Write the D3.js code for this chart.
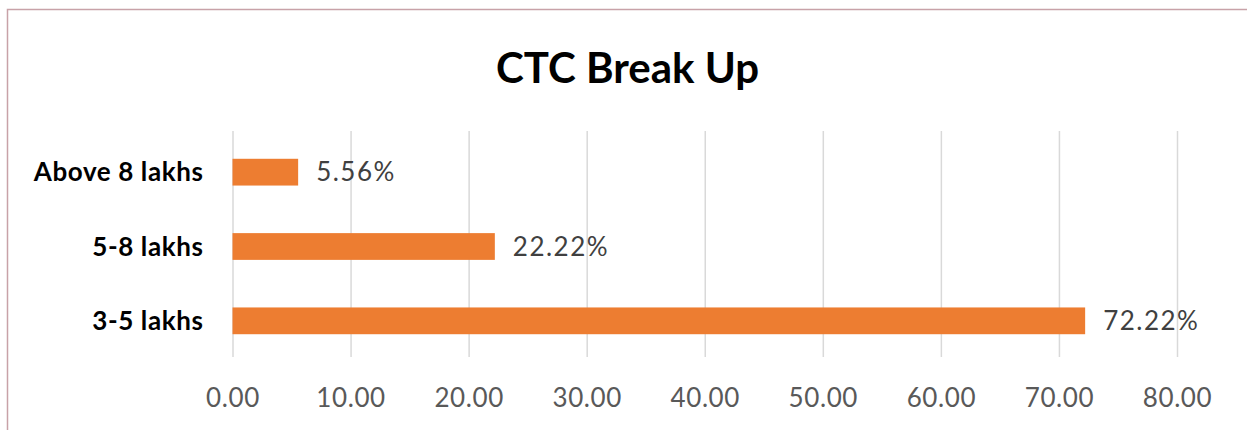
<!DOCTYPE html>
<html><head><meta charset="utf-8">
<script src="https://cdn.jsdelivr.net/npm/d3@7"></script>
<style>body{margin:0;background:#fff} svg{display:block}</style>
</head><body>
<svg id="chart" width="1247" height="430"></svg>
<script>
const categories = ["Above 8 lakhs", "5-8 lakhs", "3-5 lakhs"];
const values = [5.56, 22.22, 72.22];
const valueLabels = ["5.56%", "22.22%", "72.22%"];
const xTicks = [0, 10, 20, 30, 40, 50, 60, 70, 80];
const title = "CTC Break Up";

const W = 1247, H = 430;
const svg = d3.select("#chart");
const FONT = "Lato, 'Open Sans', sans-serif";

svg.append("rect").attr("x", 7.5).attr("y", 9.5).attr("width", W).attr("height", H)
  .attr("fill", "#fff").attr("stroke", "#c8a2a8").attr("stroke-width", 1.5);

const x = d3.scaleLinear().domain([0, 80]).range([232.5, 1177]);
const y = d3.scaleBand().domain(categories).range([135, 358]).paddingInner(0.64).paddingOuter(0.32);
const gridTop = 131, gridBottom = 357;

// gridlines
const grid = svg.append("g").attr("transform", `translate(0,${gridBottom})`)
  .call(d3.axisBottom(x).tickValues(xTicks).tickSize(-(gridBottom - gridTop)).tickFormat(""));
grid.select(".domain").remove();
grid.selectAll("line").attr("stroke", "#d9d9d9").attr("stroke-width", 1.5);

// tick labels
const ax = svg.append("g").attr("transform", `translate(0,${gridBottom})`)
  .call(d3.axisBottom(x).tickValues(xTicks).tickSize(0).tickFormat(d3.format(".2f")));
ax.select(".domain").remove();
ax.selectAll("text").attr("dy", 0).attr("y", 50)
  .attr("fill", "#595959").style("font-family", FONT).style("font-size", "26px")
  .style("letter-spacing", "0.6px");

// bars
const data = categories.map((c, i) => ({ c, v: values[i], l: valueLabels[i] }));
svg.append("g").selectAll("rect").data(data).join("rect")
  .attr("x", x(0)).attr("y", d => y(d.c))
  .attr("width", d => x(d.v) - x(0)).attr("height", y.bandwidth())
  .attr("fill", "#ED7D31");

// value labels
svg.append("g").selectAll("text").data(data).join("text")
  .attr("x", d => x(d.v) + 18).attr("y", d => y(d.c) + y.bandwidth() / 2 + 9)
  .attr("fill", "#404040").style("font-family", FONT).style("font-size", "26px")
  .style("letter-spacing", "1.5px")
  .text(d => d.l);

// category labels
const yax = svg.append("g").attr("transform", `translate(${x(0)},0)`)
  .call(d3.axisLeft(y).tickSize(0).tickPadding(29));
yax.select(".domain").remove();
yax.selectAll("text").attr("dy", "0.35em").attr("fill", "#000")
  .style("font-family", FONT).style("font-size", "26px").style("font-weight", "bold")
  .style("letter-spacing", "0.6px");

// title
svg.append("text").attr("x", 627.5).attr("y", 83).attr("text-anchor", "middle")
  .style("font-family", FONT).style("font-size", "42px").style("font-weight", "bold")
  .attr("fill", "#000").text(title);
</script>
</body></html>
